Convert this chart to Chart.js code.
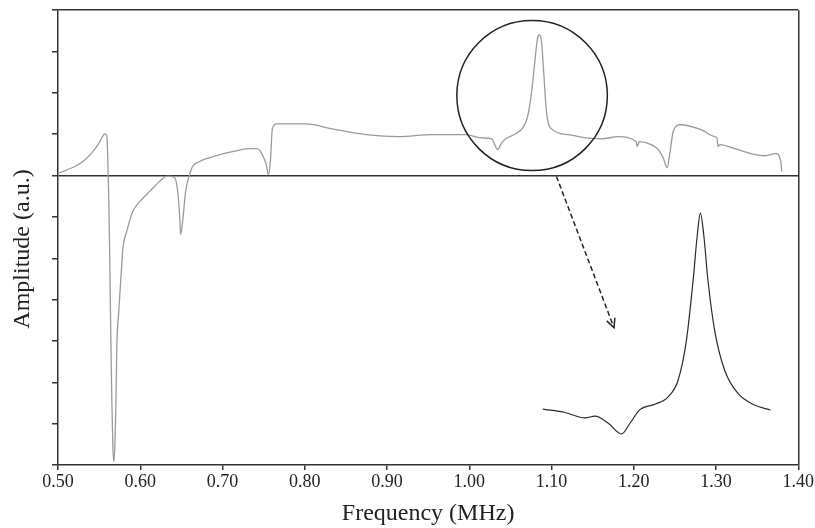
<!DOCTYPE html>
<html lang="en">

<head>
    <meta charset="UTF-8">
    <title>Amplitude spectrum</title>
    <style>
        body { margin: 0; background: #fff; }
        canvas { display: block; }
    </style>
</head>

<body>
    <canvas id="canvas" width="815" height="528"></canvas>

    <script type="text/javascript" src="https://cdn.jsdelivr.net/npm/chart.js@4.4.1/dist/chart.umd.min.js"></script>
    <script>
        // full sweep (gray trace)
        const freq = [0.500, 0.5109, 0.5206, 0.5303, 0.5424, 0.5509, 0.5545, 0.557, 0.5594, 0.5606, 0.5618, 0.5630, 0.5642,
            0.5655, 0.5667, 0.5679, 0.5691, 0.5703, 0.5715, 0.5739, 0.5776, 0.5788, 0.5836, 0.5909, 0.5994, 0.6115, 0.6236,
            0.6321, 0.6358, 0.6418, 0.6455, 0.6479, 0.6491, 0.6515, 0.6552, 0.660, 0.6636, 0.6721, 0.6927, 0.7121, 0.7327,
            0.7424, 0.7485, 0.7533, 0.7558, 0.7582, 0.7606, 0.7655, 0.8018, 0.8333, 0.8745, 0.9145, 0.9545, 0.9958, 1.0152,
            1.0273, 1.0345, 1.0394, 1.0442, 1.0564, 1.0648, 1.0709, 1.0758, 1.0794, 1.0830, 1.0855, 1.0879, 1.0903, 1.0939,
            1.1000, 1.1206, 1.1412, 1.1606, 1.1812, 1.2030, 1.2042, 1.2067, 1.2212, 1.2297, 1.2358, 1.2406, 1.2442, 1.2479,
            1.2564, 1.2818, 1.2988, 1.3012, 1.3024, 1.3048, 1.3230, 1.3424, 1.3594, 1.3727, 1.3788, 1.380];
        const amp = [0.05, 0.14, 0.22, 0.34, 0.58, 0.82, 0.96, 1.01, 0.96, 0.34, -0.63, -2.07, -3.92,
            -5.48, -6.56, -6.92, -6.56, -5.67, -4.16, -3.27, -2.14, -1.78, -1.35, -0.87, -0.63, -0.38, -0.14,
            -0.02, -0.02, -0.05, -0.38, -0.99, -1.42, -1.11, -0.38, 0.02, 0.22, 0.34, 0.48, 0.58, 0.65,
            0.65, 0.50, 0.26, 0.02, 0.34, 1.13, 1.25, 1.25, 1.13, 0.99, 0.94, 0.99, 0.99, 0.91,
            0.89, 0.63, 0.79, 0.89, 1.01, 1.15, 1.42, 2.02, 2.69, 3.32, 3.41, 3.22, 2.57, 1.54,
            1.13, 0.99, 0.91, 0.89, 0.94, 0.82, 0.70, 0.82, 0.75, 0.63, 0.43, 0.19, 0.58, 1.06,
            1.23, 1.11, 0.94, 0.91, 0.70, 0.75, 0.65, 0.53, 0.48, 0.53, 0.34, 0.10];

        // enlarged peak (dark trace, lower right)
        const zoomFreq = [1.0895, 1.1166, 1.1408, 1.1530, 1.1691, 1.1852, 1.1954, 1.2075, 1.2257, 1.2418, 1.2539,
            1.2640, 1.2721, 1.2773, 1.2810, 1.2851, 1.2903, 1.2984, 1.3105, 1.3267, 1.3469, 1.3663];
        const zoomAmp = [-5.65, -5.73, -5.86, -5.82, -5.99, -6.25, -5.99, -5.66, -5.53, -5.35, -4.95,
            -3.99, -2.55, -1.43, -0.91, -1.43, -2.55, -3.75, -4.71, -5.27, -5.55, -5.67];

        const xTicks = [0.5, 0.6, 0.7, 0.8, 0.9, 1.0, 1.1, 1.2, 1.3, 1.4];
        const yRange = [-7, 4];

        // circle around the peak: centre (MHz, a.u.) and radii
        const ringCenter = [1.0764, 1.935];
        const ringRadius = [0.0915, 1.815];
        // dashed arrow from circle to enlarged trace
        const arrowFrom = [1.106, -0.02];
        const arrowTo = [1.176, -3.68];

        const ink = '#333';
        const serif = "'Liberation Serif', 'Times New Roman', serif";

        var extras = {
            id: 'extras',
            afterDatasetsDraw(chart) {
                const ctx = chart.ctx;
                const xs = chart.scales.x, ys = chart.scales.y;
                ctx.save();

                // circle
                const cx = xs.getPixelForValue(ringCenter[0]);
                const cy = ys.getPixelForValue(ringCenter[1]);
                const rx = xs.getPixelForValue(ringCenter[0] + ringRadius[0]) - cx;
                const ry = cy - ys.getPixelForValue(ringCenter[1] + ringRadius[1]);
                ctx.strokeStyle = '#222';
                ctx.lineWidth = 1.5;
                ctx.beginPath();
                ctx.ellipse(cx, cy, rx, ry, 0, 0, Math.PI * 2);
                ctx.stroke();

                // arrow
                const x1 = xs.getPixelForValue(arrowFrom[0]), y1 = ys.getPixelForValue(arrowFrom[1]);
                const x2 = xs.getPixelForValue(arrowTo[0]), y2 = ys.getPixelForValue(arrowTo[1]);
                ctx.setLineDash([5, 3]);
                ctx.beginPath();
                ctx.moveTo(x1, y1);
                ctx.lineTo(x2, y2);
                ctx.stroke();
                ctx.setLineDash([]);
                const a = Math.atan2(y2 - y1, x2 - x1);
                ctx.beginPath();
                ctx.moveTo(x2 - 10 * Math.cos(a - 0.45), y2 - 10 * Math.sin(a - 0.45));
                ctx.lineTo(x2, y2);
                ctx.lineTo(x2 - 10 * Math.cos(a + 0.45), y2 - 10 * Math.sin(a + 0.45));
                ctx.stroke();

                // y axis title
                ctx.translate(23, 249);
                ctx.rotate(-Math.PI / 2);
                ctx.fillStyle = '#222';
                ctx.font = '24px ' + serif;
                ctx.textAlign = 'center';
                ctx.textBaseline = 'middle';
                ctx.fillText('Amplitude (a.u.)', 0, 0);
                ctx.restore();
            }
        };

        var ctx = document.getElementById('canvas').getContext('2d');
        var myChart = new Chart(ctx, {
            type: 'scatter',
            data: {
                datasets: [{
                    data: freq.map((f, i) => ({ x: f, y: amp[i] })),
                    showLine: true,
                    borderColor: '#9a9a9a',
                    borderWidth: 1.3,
                    pointRadius: 0,
                    cubicInterpolationMode: 'monotone'
                }, {
                    data: zoomFreq.map((f, i) => ({ x: f, y: zoomAmp[i] })),
                    showLine: true,
                    borderColor: '#2a2a2a',
                    borderWidth: 1.2,
                    pointRadius: 0,
                    cubicInterpolationMode: 'monotone'
                }]
            },
            options: {
                responsive: false,
                animation: false,
                devicePixelRatio: 1,
                layout: { padding: { top: 7, right: 14, left: 0, bottom: 0 } },
                plugins: { legend: { display: false }, tooltip: { enabled: false } },
                scales: {
                    x: {
                        type: 'linear',
                        min: xTicks[0],
                        max: xTicks[xTicks.length - 1],
                        afterBuildTicks: s => { s.ticks = xTicks.map(v => ({ value: v })); },
                        afterFit: s => { s.height = 63; },
                        border: { color: ink, width: 1.5 },
                        grid: {
                            color: c => (c.tick && Math.abs(c.tick.value - 1.4) < 1e-6) ? ink : 'transparent',
                            lineWidth: 1.5,
                            tickColor: ink,
                            tickLength: 5
                        },
                        ticks: {
                            color: '#222',
                            font: { family: serif, size: 18 },
                            padding: 1,
                            maxRotation: 0,
                            callback: v => v.toFixed(2)
                        },
                        title: {
                            display: true,
                            text: 'Frequency (MHz)',
                            color: '#222',
                            font: { family: serif, size: 24 },
                            padding: { top: 0, bottom: 0 }
                        }
                    },
                    y: {
                        min: yRange[0],
                        max: yRange[1],
                        afterFit: s => { s.width = 58; },
                        border: { color: ink, width: 1.5 },
                        grid: {
                            color: c => (c.tick && (c.tick.value === 0 || c.tick.value === yRange[1])) ? ink : 'transparent',
                            lineWidth: 1.5,
                            tickColor: ink,
                            tickLength: 6
                        },
                        ticks: { stepSize: 1, callback: () => '' }
                    }
                }
            },
            plugins: [extras]
        });
    </script>

</body>

</html>
